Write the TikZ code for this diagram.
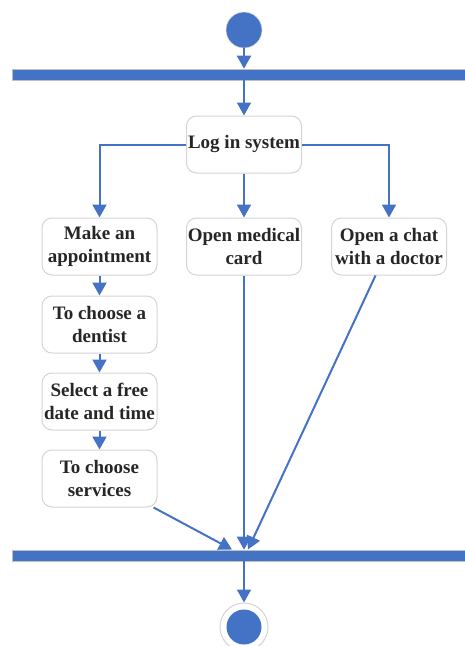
\documentclass[tikz,border=0pt]{standalone}
\usepackage{fontspec}
\setmainfont{Liberation Serif}
\usetikzlibrary{arrows.meta,calc}
\definecolor{umlblue}{HTML}{4472C4}
\definecolor{boxgray}{HTML}{D4D4D4}
\tikzset{
  act/.style={draw=boxgray, line width=1pt, rounded corners=10pt, fill=white,
    minimum width=115pt, minimum height=57pt, inner sep=0pt, align=center,
    font=\fontsize{19}{23}\selectfont\bfseries, text=black!85},
  bar/.style={fill=umlblue, draw=black!25, line width=0.6pt, minimum width=453pt, minimum height=11pt, inner sep=0pt},
  arr/.style={draw=umlblue, line width=2pt, -{Triangle[length=13pt,width=14pt]}},
}
\begin{document}
\begin{tikzpicture}[x=1pt,y=-1pt]
\useasboundingbox (0,0) rectangle (465,646);
\node[circle, fill=umlblue, draw=black!15, line width=0.6pt, minimum size=36pt, inner sep=0pt] (start) at (244,30) {};
\node[bar] (bar1) at (238.5,74.5) {};
\node[act] (login) at (244,144.5) {Log in system};
\node[act] (app) at (99.5,246.5) {Make an\\appointment};
\node[act] (med) at (244,246.5) {Open medical\\card};
\node[act] (chat) at (389,246.5) {Open a chat\\with a doctor};
\node[act] (dent) at (99.5,324.5) {To choose a\\dentist};
\node[act] (date) at (99.5,401.5) {Select a free\\date and time};
\node[act] (serv) at (99.5,478.5) {To choose\\services};
\node[bar] (bar2) at (238.5,555.5) {};
\node[circle, fill=white, draw=boxgray, line width=1pt, minimum size=48pt, inner sep=0pt] (endo) at (244,627) {};
\node[circle, fill=umlblue, minimum size=35pt, inner sep=0pt] (endi) at (244,627) {};
\coordinate (j1) at (232,549.5);
\coordinate (j3) at (248,549.5);

\draw[arr] (start) -- (start |- bar1.north);
\draw[arr] (login |- bar1.south) -- (login);
\draw[arr] (login.west) -| (app.north);
\draw[arr] (login.east) -| (chat.north);
\draw[arr] (login) -- (med);
\draw[arr] (app) -- (dent);
\draw[arr] (dent) -- (date);
\draw[arr] (date) -- (serv);
\draw[arr] (serv) -- (j1);
\draw[arr] (med) -- (med |- bar2.north);
\draw[arr] (chat) -- (j3);
\draw[arr] (endo |- bar2.south) -- (endo);
\end{tikzpicture}
\end{document}
